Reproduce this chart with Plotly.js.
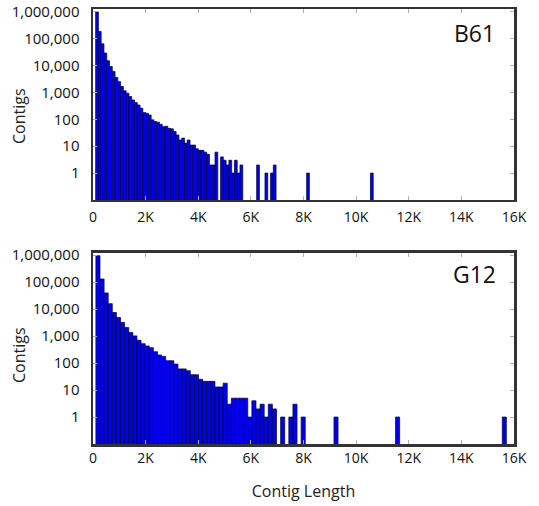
<!DOCTYPE html>
<html><head><meta charset="utf-8">
<script src="https://cdn.plot.ly/plotly-3.0.1.min.js"></script>
<style>html,body{margin:0;padding:0;background:#fff}#chart{width:539px;height:506px}</style>
</head><body><div id="chart"></div>
<script>
// Histogram counts per bin (100 bins each)
const b61Counts = [
  980000,185000,64000,29000,15000,9200,6000,3600,2500,1650,
  1140,930,700,525,417,340,258,177,168,145,
  95,82,78,65,53,55,46,44,35,26,
  17,20,13,17,11,11,8,7,7,6,
  5,2,2,6,0,4,3,2,3,1,
  3,1,2,0,0,0,0,0,2,0,
  0,1,0,1,2,0,0,0,0,0,
  0,0,0,0,0,0,1,0,0,0,
  0,0,0,0,0,0,0,0,0,0,
  0,0,0,0,0,0,0,0,0,1
];
const g12Counts = [
  960000,131000,40000,16000,7500,4900,3200,2100,1350,1020,
  700,525,432,372,265,200,177,122,122,92,
  61,61,52,37,37,25,21,21,21,13,
  13,18,3,5,5,5,5,1,4,2,
  3,1,3,2,0,1,0,1,3,0,
  1,0,0,0,0,0,0,0,1,0,
  0,0,0,0,0,0,0,0,0,0,
  0,0,0,1,0,0,0,0,0,0,
  0,0,0,0,0,0,0,0,0,0,
  0,0,0,0,0,0,0,0,0,1
];
const b61BinStart = 100, b61BinWidth = 105.5;
const g12BinStart = 110, g12BinWidth = 156;
const yTickVals = [1,10,100,1000,10000,100000,1000000];
const yTickText = ['1','10','100','1,000','10,000','100,000','1,000,000'];
const xTickVals = [0,2000,4000,6000,8000,10000,12000,14000,16000];
const xTickText = ['0','2K','4K','6K','8K','10K','12K','14K','16K'];
const panelLabels = ['B61','G12'];
const yTitle = 'Contigs';
const xTitle = 'Contig Length';

function centers(start, width, n){ return Array.from({length:n}, (_, i) => start + (i + 0.5) * width); }
function clean(a){ return a.map(v => v > 0 ? v : null); }

const FONT = 'Open Sans, Noto Sans, sans-serif';
const barStyle = { color: '#0000EE', line: { color: '#000033', width: 0.7 } };

const traces = [
  { type: 'bar', x: centers(b61BinStart, b61BinWidth, b61Counts.length), y: clean(b61Counts),
    width: b61BinWidth, marker: barStyle, xaxis: 'x', yaxis: 'y', hoverinfo: 'x+y', showlegend: false },
  { type: 'bar', x: centers(g12BinStart, g12BinWidth, g12Counts.length), y: clean(g12Counts),
    width: g12BinWidth, marker: barStyle, xaxis: 'x2', yaxis: 'y2', hoverinfo: 'x+y', showlegend: false }
];

function xAxis(anchor, standoff, title){
  return { anchor: anchor, domain: [0, 1], range: [0, 16000], tickvals: xTickVals, ticktext: xTickText,
    ticks: 'inside', ticklen: 4, tickcolor: '#b0b0b0', showline: true, linecolor: '#333', linewidth: 2.5,
    mirror: 'allticks', showgrid: false, zeroline: false, ticklabelstandoff: standoff,
    tickfont: { family: FONT, size: 14, color: '#111' },
    title: title ? { text: title, font: { family: FONT, size: 16, color: '#222' }, standoff: 20 } : { text: '' } };
}
function yAxis(anchor, domain){
  return { anchor: anchor, domain: domain, type: 'log', range: [-1, 6.1], tickvals: yTickVals, ticktext: yTickText,
    ticks: 'inside', ticklen: 4, tickcolor: '#b0b0b0', showline: true, linecolor: '#333', linewidth: 2.5,
    mirror: 'allticks', showgrid: false, zeroline: false, ticklabelstandoff: 8,
    tickfont: { family: FONT, size: 15, color: '#111' },
    title: { text: '' } };
}

const layout = {
  width: 539, height: 506,
  margin: { l: 93, r: 25, t: 9, b: 62 },
  paper_bgcolor: '#fff', plot_bgcolor: '#fff',
  bargap: 0,
  font: { family: FONT },
  xaxis: xAxis('y', 3, null),
  yaxis: yAxis('x', [0.561, 1]),
  xaxis2: xAxis('y2', 0, xTitle),
  yaxis2: yAxis('x2', [0, 0.4402]),
  annotations: [
    { text: panelLabels[0], xref: 'paper', yref: 'paper', x: 0.905, y: 0.9437, xanchor: 'center', yanchor: 'middle',
      showarrow: false, font: { family: FONT, size: 23, color: '#111' } },
    { text: panelLabels[1], xref: 'paper', yref: 'paper', x: 0.907, y: 0.391, xanchor: 'center', yanchor: 'middle',
      showarrow: false, font: { family: FONT, size: 23, color: '#111' } },
    { text: yTitle, xref: 'paper', yref: 'paper', x: -0.1758, y: 0.754, xanchor: 'center', yanchor: 'middle',
      textangle: -90, showarrow: false, font: { family: FONT, size: 16, color: '#222' } },
    { text: yTitle, xref: 'paper', yref: 'paper', x: -0.1758, y: 0.2046, xanchor: 'center', yanchor: 'middle',
      textangle: -90, showarrow: false, font: { family: FONT, size: 16, color: '#222' } }
  ]
};

Plotly.newPlot('chart', traces, layout, { displayModeBar: false, staticPlot: true });
</script>
</body></html>
